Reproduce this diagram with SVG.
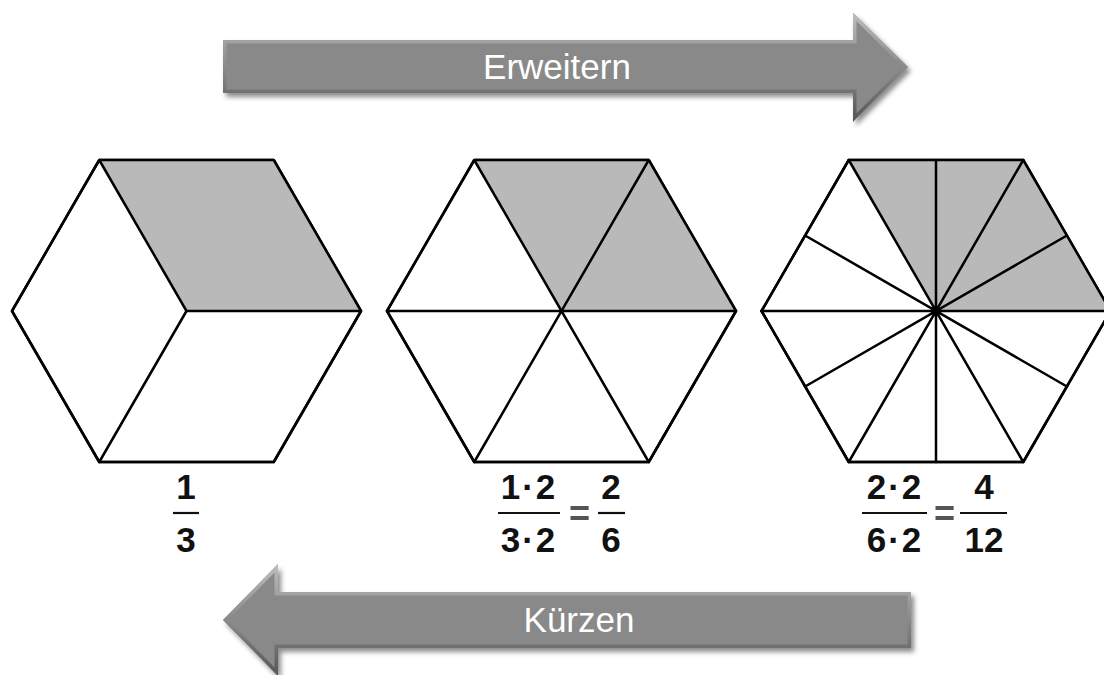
<svg xmlns="http://www.w3.org/2000/svg" width="1104" height="675" viewBox="0 0 1104 675">
<style>
.hex{fill:#fff;stroke:#000;stroke-width:2.5;stroke-linejoin:round}
.shade{fill:#b9b9b9;stroke:none}
.ln{stroke:#000;stroke-width:2.5;stroke-linecap:round;fill:none}
.num{font-family:"Liberation Sans",Arial,sans-serif;font-weight:bold;font-size:35px;fill:#111;text-anchor:middle}
.eq{font-family:"Liberation Sans",Arial,sans-serif;font-weight:bold;font-size:36px;fill:#555;text-anchor:middle}
.bar{stroke:#111;stroke-width:2.2}
.lab{font-family:"Liberation Sans",Arial,sans-serif;font-size:35px;fill:#fff;text-anchor:middle}
.arrow{fill:#898989}
</style>
<defs>
<filter id="sh" x="-10%" y="-30%" width="125%" height="170%">
<feDropShadow dx="3" dy="4" stdDeviation="2.5" flood-color="#000" flood-opacity="0.45"/>
</filter>
<linearGradient id="bev" x1="0" y1="0" x2="0" y2="1">
<stop offset="0" stop-color="#bdbdbd"/>
<stop offset="0.5" stop-color="#8a8a8a"/>
<stop offset="1" stop-color="#555"/>
</linearGradient>
<clipPath id="cpTop"><path d="M223,40 H853 V12.7 L908,67 L853,121.7 V93 H223 Z"/></clipPath>
<clipPath id="cpBot"><path d="M911,592 H278 V564 L223,620 L278,676 V648 H911 Z"/></clipPath>
</defs>
<rect width="1104" height="675" fill="#fff"/>

<g id="arrow-erweitern">
<path class="arrow" filter="url(#sh)" d="M223,40 H853 V12.7 L908,67 L853,121.7 V93 H223 Z"/>
<path d="M223,40 H853 V12.7 L908,67 L853,121.7 V93 H223 Z" fill="none" stroke="url(#bev)" stroke-width="7" clip-path="url(#cpTop)"/>
<text class="lab" x="557" y="79">Erweitern</text>
</g>

<g id="arrow-kuerzen">
<path class="arrow" filter="url(#sh)" d="M911,592 H278 V564 L223,620 L278,676 V648 H911 Z"/>
<path d="M911,592 H278 V564 L223,620 L278,676 V648 H911 Z" fill="none" stroke="url(#bev)" stroke-width="7" clip-path="url(#cpBot)"/>
<text class="lab" x="579" y="632">Kürzen</text>
</g>

<g id="hex1" transform="translate(186.5,311)">
<polygon class="hex" points="-174.5,0 -87.25,-151 87.25,-151 174.5,0 87.25,151 -87.25,151"/>
<polygon class="shade" points="0,0 -87.25,-151 87.25,-151 174.5,0"/>
<path class="ln" d="M0,0 L-87.25,-151 M0,0 L174.5,0 M0,0 L-87.25,151"/>
<polygon points="-174.5,0 -87.25,-151 87.25,-151 174.5,0 87.25,151 -87.25,151" fill="none" stroke="#000" stroke-width="2.5" stroke-linejoin="round"/>
</g>

<g id="hex2" transform="translate(561.5,311)">
<polygon class="hex" points="-174.5,0 -87.25,-151 87.25,-151 174.5,0 87.25,151 -87.25,151"/>
<polygon class="shade" points="0,0 -87.25,-151 87.25,-151 174.5,0"/>
<path class="ln" d="M-174.5,0 L174.5,0 M-87.25,-151 L87.25,151 M87.25,-151 L-87.25,151"/>
<polygon points="-174.5,0 -87.25,-151 87.25,-151 174.5,0 87.25,151 -87.25,151" fill="none" stroke="#000" stroke-width="2.5" stroke-linejoin="round"/>
</g>

<g id="hex3" transform="translate(936,311)">
<polygon class="hex" points="-174.5,0 -87.25,-151 87.25,-151 174.5,0 87.25,151 -87.25,151"/>
<polygon class="shade" points="0,0 -87.25,-151 87.25,-151 174.5,0"/>
<path class="ln" d="M-174.5,0 L174.5,0 M-87.25,-151 L87.25,151 M87.25,-151 L-87.25,151 M0,-151 L0,151 M-130.9,-75.5 L130.9,75.5 M130.9,-75.5 L-130.9,75.5"/>
<polygon points="-174.5,0 -87.25,-151 87.25,-151 174.5,0 87.25,151 -87.25,151" fill="none" stroke="#000" stroke-width="2.5" stroke-linejoin="round"/>
<circle cx="0" cy="0" r="3.5" fill="#000"/>
</g>

<g id="frac1">
<text class="num" x="186" y="499">1</text>
<line class="bar" x1="173" y1="513" x2="199" y2="513"/>
<text class="num" x="186" y="552">3</text>
</g>

<g id="frac2">
<text class="num" x="529" y="499" letter-spacing="2">1·2</text>
<line class="bar" x1="498" y1="513" x2="560" y2="513"/>
<text class="num" x="529" y="552" letter-spacing="2">3·2</text>
<text class="eq" x="579.5" y="526">=</text>
<text class="num" x="611" y="499">2</text>
<line class="bar" x1="598" y1="513" x2="625" y2="513"/>
<text class="num" x="611" y="552">6</text>
</g>

<g id="frac3">
<text class="num" x="895" y="499" letter-spacing="2">2·2</text>
<line class="bar" x1="862" y1="513" x2="927" y2="513"/>
<text class="num" x="895" y="552" letter-spacing="2">6·2</text>
<text class="eq" x="944.5" y="526">=</text>
<text class="num" x="984" y="499">4</text>
<line class="bar" x1="960" y1="513" x2="1007" y2="513"/>
<text class="num" x="984" y="552">12</text>
</g>
</svg>
